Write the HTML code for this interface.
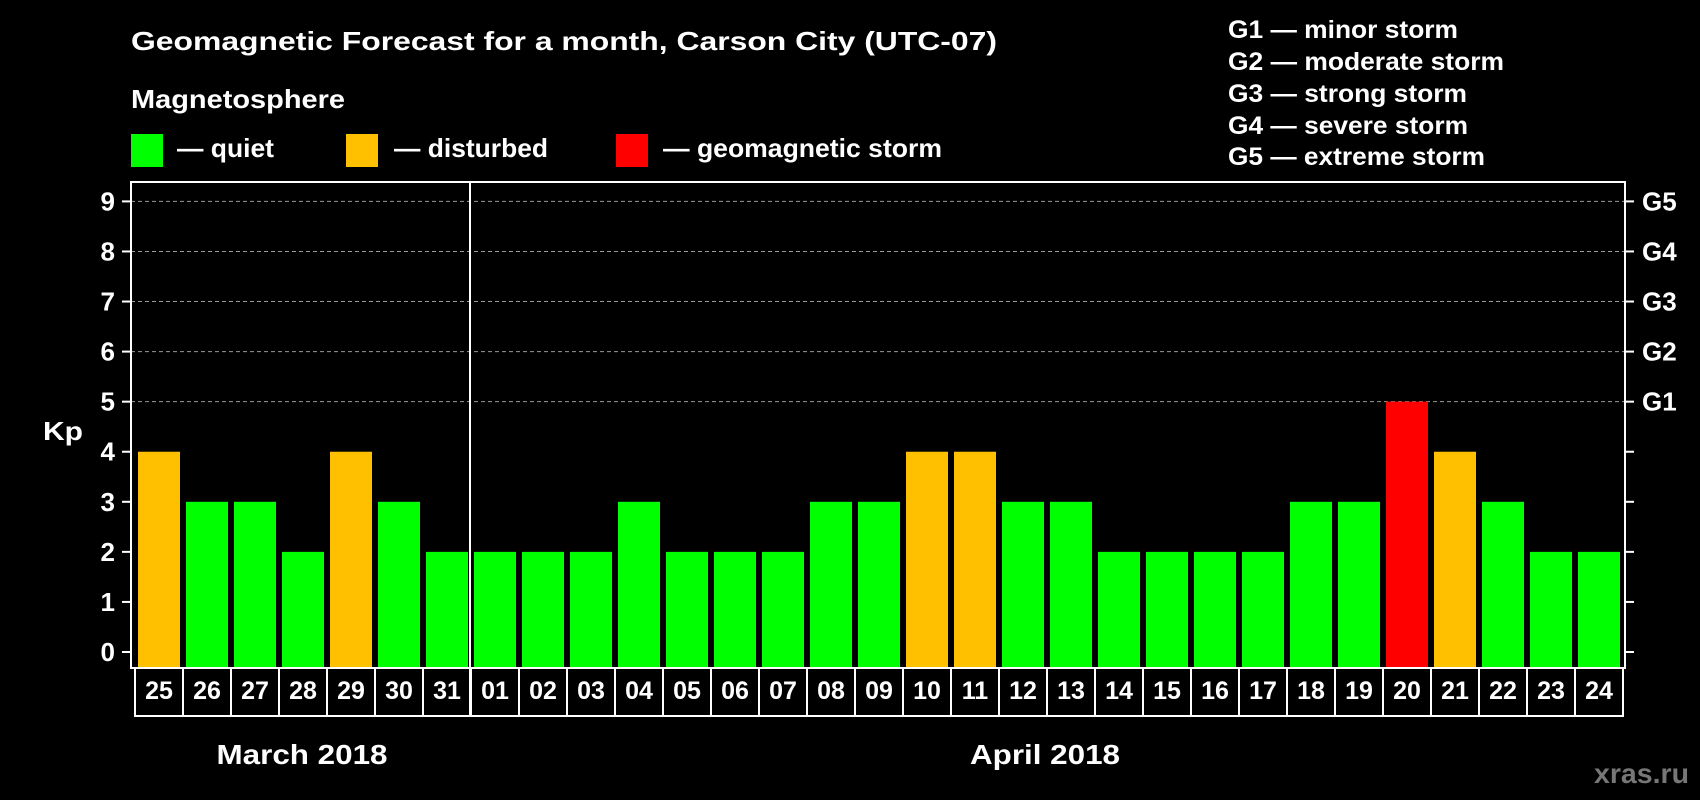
<!DOCTYPE html>
<html><head><meta charset="utf-8"><style>
html,body{margin:0;padding:0;background:#000;}
svg{display:block;font-family:"Liberation Sans",Arial,sans-serif;font-weight:bold;}
</style></head><body>
<svg id="chart" width="1700" height="800" viewBox="0 0 1700 800" xmlns="http://www.w3.org/2000/svg">
<rect x="0" y="0" width="1700" height="800" fill="#000"/>
<text x="131" y="50" fill="#fff" font-size="26" textLength="866" lengthAdjust="spacingAndGlyphs">Geomagnetic Forecast for a month, Carson City (UTC-07)</text>
<text x="131" y="108" fill="#fff" font-size="26" textLength="214" lengthAdjust="spacingAndGlyphs">Magnetosphere</text>
<g>
<rect x="131" y="134" width="32" height="33" fill="#00ff00"/>
<text x="177" y="157" fill="#fff" font-size="26" textLength="97" lengthAdjust="spacingAndGlyphs">— quiet</text></g>
<g>
<rect x="346" y="134" width="32" height="33" fill="#ffc000"/>
<text x="394" y="157" fill="#fff" font-size="26" textLength="154" lengthAdjust="spacingAndGlyphs">— disturbed</text></g>
<g>
<rect x="616" y="134" width="32" height="33" fill="#ff0000"/>
<text x="663" y="157" fill="#fff" font-size="26" textLength="279" lengthAdjust="spacingAndGlyphs">— geomagnetic storm</text></g>
<g fill="#fff" font-size="25">
<text x="1228" y="38" textLength="230" lengthAdjust="spacingAndGlyphs">G1 — minor storm</text>
<text x="1228" y="70" textLength="276" lengthAdjust="spacingAndGlyphs">G2 — moderate storm</text>
<text x="1228" y="102" textLength="239" lengthAdjust="spacingAndGlyphs">G3 — strong storm</text>
<text x="1228" y="134" textLength="240" lengthAdjust="spacingAndGlyphs">G4 — severe storm</text>
<text x="1228" y="165" textLength="257" lengthAdjust="spacingAndGlyphs">G5 — extreme storm</text>
</g>
<text x="43" y="440" fill="#fff" font-size="26" textLength="40" lengthAdjust="spacingAndGlyphs">Kp</text>
<text x="302" y="764" fill="#fff" font-size="28" text-anchor="middle" textLength="171" lengthAdjust="spacingAndGlyphs">March 2018</text>
<text x="1045" y="764" fill="#fff" font-size="28" text-anchor="middle" textLength="150" lengthAdjust="spacingAndGlyphs">April 2018</text>
<text x="1689" y="783" fill="#777" font-size="28" text-anchor="end" textLength="95" lengthAdjust="spacingAndGlyphs">xras.ru</text>
<g id="plot"></g>
</svg>
<script>
const days = ["25","26","27","28","29","30","31","01","02","03","04","05","06","07","08","09","10","11","12","13","14","15","16","17","18","19","20","21","22","23","24"];
const kpValues = [4,3,3,2,4,3,2,2,2,2,3,2,2,2,3,3,4,4,3,3,2,2,2,2,3,3,5,4,3,2,2];
const yTicks = [0,1,2,3,4,5,6,7,8,9];
const gLabels = ["G1","G2","G3","G4","G5"];
const gLevels = [5,6,7,8,9];

const NS="http://www.w3.org/2000/svg";
const plot=document.getElementById('plot');
const L=131,R=1625,T=182,B=668,y0=652,y9=201.4;
const boxL=135,boxW=48,boxB=716;
function y(v){return y0-(y0-y9)*v/9;}
function x(i){return boxL+i*boxW;}
function mk(tag,attrs,parent){const e=document.createElementNS(NS,tag);for(const k in attrs)e.setAttribute(k,attrs[k]);(parent||plot).appendChild(e);return e;}

// grid lines
yTicks.forEach(t=>{
  if(t>=5){const g=mk('line',{x1:L,x2:R,y1:y(t),y2:y(t),stroke:'#999','stroke-width':1,'stroke-dasharray':'4,3'});
  
  }
  const tl=mk('line',{x1:L-9,x2:L,y1:y(t),y2:y(t),stroke:'#fff','stroke-width':2});
  
  
  const tr=mk('line',{x1:R,x2:R+9,y1:y(t),y2:y(t),stroke:'#fff','stroke-width':2});
  
  
  const lab=mk('text',{x:115,y:y(t)+9,fill:'#fff','font-size':26,'text-anchor':'end'});
  lab.textContent=t;
  
  
});
gLabels.forEach((g,i)=>{
  const t=mk('text',{x:1642,y:y(gLevels[i])+9,fill:'#fff','font-size':26});
  t.textContent=g;
  
  
});
// bars
kpValues.forEach((v,i)=>{
  const c=v>=5?'#ff0000':(v>=4?'#ffc000':'#00ff00');
  const b=mk('rect',{x:x(i)+3,y:y(v),width:42,height:B-y(v),fill:c});
  
  
});
// frame
const fr=mk('rect',{x:L,y:T,width:R-L,height:B-T,fill:'none',stroke:'#fff','stroke-width':2});


const sep=mk('line',{x1:x(7)-1,x2:x(7)-1,y1:T,y2:boxB,stroke:'#fff','stroke-width':2});


// date boxes
days.forEach((d,i)=>{
  const r=mk('rect',{x:x(i),y:B,width:boxW,height:boxB-B,fill:'none',stroke:'#fff','stroke-width':2});
  
  
  const t=mk('text',{x:x(i)+boxW/2,y:699,fill:'#fff','font-size':25,'text-anchor':'middle'});
  t.textContent=d;
  
  
});
</script>
</body></html>
